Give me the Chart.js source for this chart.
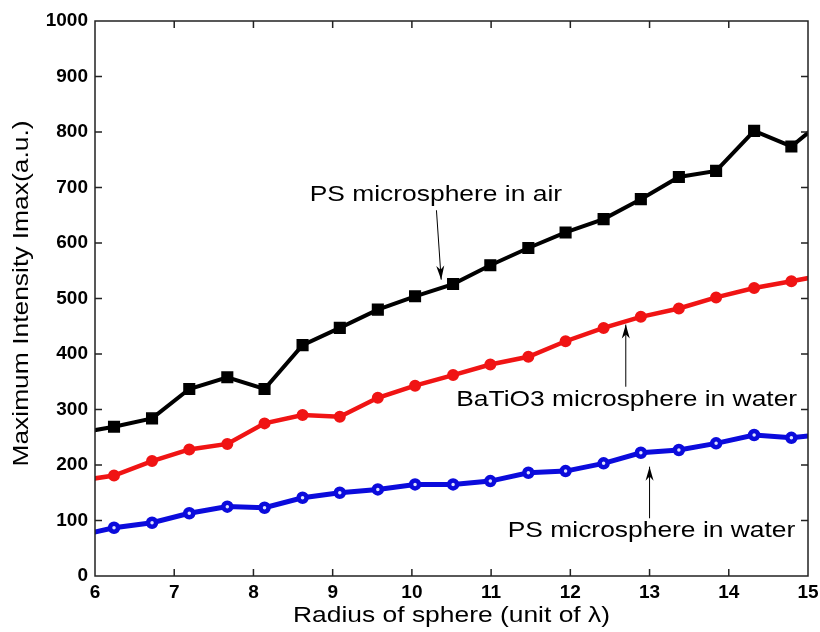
<!DOCTYPE html>
<html>
<head>
<meta charset="utf-8">
<script src="https://cdn.jsdelivr.net/npm/chart.js@4/dist/chart.umd.min.js"></script>
<style>
  html, body { margin: 0; padding: 0; background: #fff; }
  #wrap { width: 820px; height: 632px; }
</style>
</head>
<body>
<div id="wrap"><canvas id="chart" width="820" height="632"></canvas></div>
<script>
/* global Chart */

// radius of sphere (unit of lambda), one point before 6 and one after 15 are clipped
const radius = [5.77, 6.24, 6.72, 7.19, 7.67, 8.14, 8.62, 9.09, 9.57, 10.04, 10.52,
  10.99, 11.47, 11.94, 12.42, 12.89, 13.37, 13.84, 14.32, 14.79, 15.27];
const psAir = [257, 269, 284, 337, 358, 337, 416, 447, 480, 504, 526,
  560, 591, 619, 643, 679, 719, 730, 802, 774, 830];
const batio3Water = [171, 181, 207, 228, 238, 275, 290, 287, 321, 343, 362,
  381, 395, 423, 447, 467, 482, 502, 519, 531, 544];
const psWater = [72, 87, 96, 113, 125, 123, 141, 150, 156, 165, 165,
  171, 186, 189, 203, 222, 227, 239, 254, 249, 256];

const xTicks = [6, 7, 8, 9, 10, 11, 12, 13, 14, 15];
const yTicks = [0, 100, 200, 300, 400, 500, 600, 700, 800, 900, 1000];

const xTitle = "Radius of sphere (unit of λ)";
const yTitle = "Maximum Intensity Imax(a.u.)";

const FONT = '"Liberation Sans", Arial, Helvetica, sans-serif';
const STRETCH = 1.2; // the original text is wider than Arial at the same height

// text labels with arrows, in data units
const notes = [
  { text: "PS microsphere in air", x: 8.71, y: 686, from: [10.31, 659], to: [10.37, 534] },
  { text: "BaTiO3 microsphere in water", x: 10.56, y: 317, from: [12.70, 341], to: [12.70, 453] },
  { text: "PS microsphere in water", x: 11.21, y: 81, from: [13.0, 104], to: [13.0, 197] },
];

function toPoints(ys) {
  return radius.map((r, i) => ({ x: r, y: ys[i] }));
}

function wideText(ctx, text, x, y, rot) {
  ctx.save();
  ctx.translate(x, y);
  if (rot) ctx.rotate(rot);
  ctx.scale(STRETCH, 1);
  ctx.fillText(text, 0, 0);
  ctx.restore();
}

const framePlugin = {
  id: "frame",
  afterDatasetsDraw(chart) {
    const { ctx, chartArea: a, scales } = chart;
    const xs = scales.x;
    const ys = scales.y;
    ctx.save();
    ctx.strokeStyle = "#222";
    ctx.lineWidth = 1.5;
    ctx.strokeRect(a.left, a.top, a.right - a.left, a.bottom - a.top);
    ctx.beginPath();
    for (const v of xTicks.slice(1, -1)) {
      const px = xs.getPixelForValue(v);
      ctx.moveTo(px, a.bottom);
      ctx.lineTo(px, a.bottom - 7);
      ctx.moveTo(px, a.top);
      ctx.lineTo(px, a.top + 7);
    }
    for (const v of yTicks.slice(1, -1)) {
      const py = ys.getPixelForValue(v);
      ctx.moveTo(a.left, py);
      ctx.lineTo(a.left + 7, py);
      ctx.moveTo(a.right, py);
      ctx.lineTo(a.right - 7, py);
    }
    ctx.stroke();

    ctx.fillStyle = "#000";
    ctx.strokeStyle = "#000";
    ctx.font = "22px " + FONT;
    ctx.textBaseline = "middle";

    // axis titles
    ctx.textAlign = "center";
    wideText(ctx, xTitle, (a.left + a.right) / 2, 616, 0);
    wideText(ctx, yTitle, 22, (a.top + a.bottom) / 2 - 5, -Math.PI / 2);

    // annotations
    ctx.textAlign = "left";
    for (const n of notes) {
      wideText(ctx, n.text, xs.getPixelForValue(n.x), ys.getPixelForValue(n.y), 0);
      const x1 = xs.getPixelForValue(n.from[0]);
      const y1 = ys.getPixelForValue(n.from[1]);
      const x2 = xs.getPixelForValue(n.to[0]);
      const y2 = ys.getPixelForValue(n.to[1]);
      ctx.lineWidth = 1;
      ctx.beginPath();
      ctx.moveTo(x1, y1);
      ctx.lineTo(x2, y2);
      ctx.stroke();
      const ang = Math.atan2(y2 - y1, x2 - x1);
      const len = 14;
      const half = 4;
      ctx.beginPath();
      ctx.moveTo(x2, y2);
      ctx.lineTo(x2 - len * Math.cos(ang) + half * Math.sin(ang), y2 - len * Math.sin(ang) - half * Math.cos(ang));
      ctx.lineTo(x2 - len * 0.7 * Math.cos(ang), y2 - len * 0.7 * Math.sin(ang));
      ctx.lineTo(x2 - len * Math.cos(ang) - half * Math.sin(ang), y2 - len * Math.sin(ang) + half * Math.cos(ang));
      ctx.closePath();
      ctx.fill();
    }
    ctx.restore();
  },
};

new Chart(document.getElementById("chart"), {
  type: "line",
  data: {
    datasets: [
      {
        label: "PS microsphere in air",
        data: toPoints(psAir),
        borderColor: "#000",
        backgroundColor: "#000",
        borderWidth: 4,
        pointStyle: "rect",
        pointRadius: 7.5,
        pointBorderWidth: 1.5,
        pointBackgroundColor: "#000",
        pointBorderColor: "#000",
        clip: 0,
      },
      {
        label: "BaTiO3 microsphere in water",
        data: toPoints(batio3Water),
        borderColor: "#f01414",
        backgroundColor: "#f01414",
        borderWidth: 4.5,
        pointStyle: "circle",
        pointRadius: 5,
        pointBorderWidth: 2,
        pointBackgroundColor: "#f01414",
        pointBorderColor: "#f01414",
        clip: 0,
      },
      {
        label: "PS microsphere in water",
        data: toPoints(psWater),
        borderColor: "#0b0bdc",
        backgroundColor: "#0b0bdc",
        borderWidth: 5,
        pointStyle: "circle",
        pointRadius: 4,
        pointBorderWidth: 4.5,
        pointBackgroundColor: "#dfe3ff",
        pointBorderColor: "#0b0bdc",
        clip: 0,
      },
    ],
  },
  options: {
    responsive: false,
    animation: false,
    events: [],
    layout: { padding: { top: 21, right: 12, left: 0, bottom: 0 } },
    plugins: { legend: { display: false }, tooltip: { enabled: false } },
    elements: { line: { tension: 0 } },
    scales: {
      x: {
        type: "linear",
        min: 6,
        max: 15,
        afterBuildTicks: (s) => { s.ticks = xTicks.map((v) => ({ value: v })); },
        afterFit: (s) => { s.height = 56; s.paddingLeft = 0; s.paddingRight = 0; },
        grid: { display: false, drawTicks: false },
        border: { display: false },
        ticks: {
          color: "#000",
          padding: 5,
          maxRotation: 0,
          font: { family: FONT, size: 19, weight: "bold" },
          callback: (v) => String(v),
        },
      },
      y: {
        type: "linear",
        min: 0,
        max: 1000,
        afterBuildTicks: (s) => { s.ticks = yTicks.map((v) => ({ value: v })); },
        afterFit: (s) => { s.width = 95; s.paddingTop = 0; s.paddingBottom = 0; },
        grid: { display: false, drawTicks: false },
        border: { display: false },
        ticks: {
          color: "#000",
          padding: 7,
          font: { family: FONT, size: 19, weight: "bold" },
          callback: (v) => String(v),
        },
      },
    },
  },
  plugins: [framePlugin],
});
</script>
</body>
</html>
